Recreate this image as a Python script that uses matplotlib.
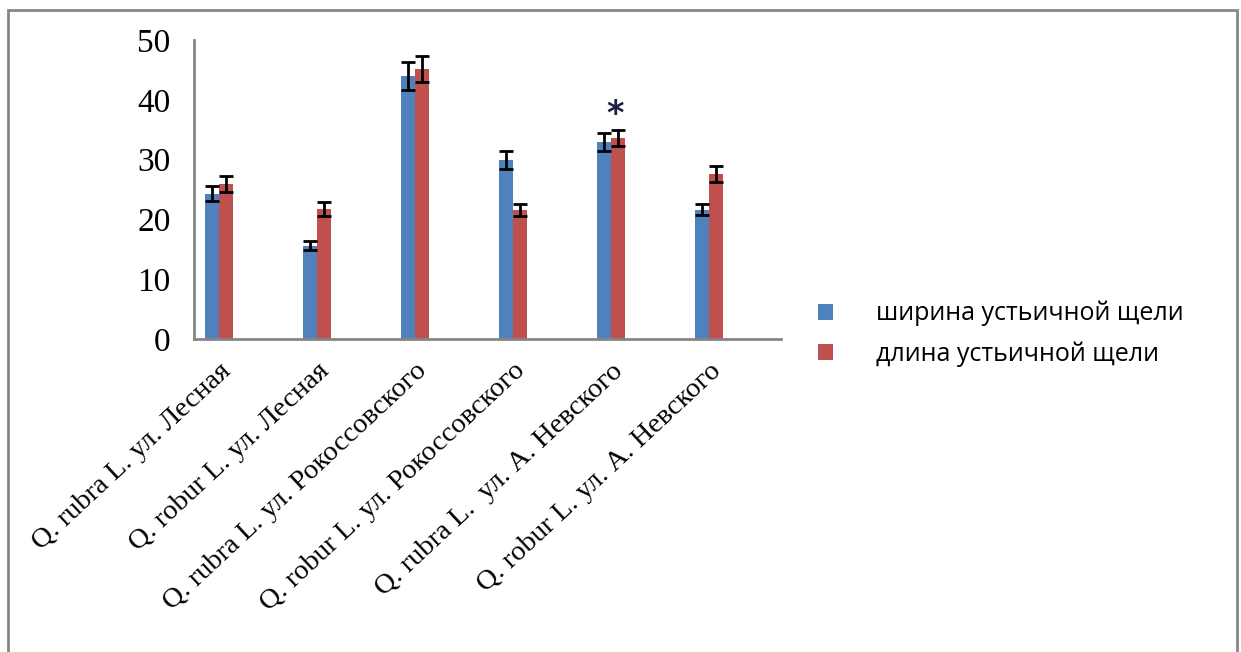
import numpy as np
import matplotlib
matplotlib.use("Agg")
import matplotlib.pyplot as plt
from matplotlib.patches import Rectangle

# data
sites = ["Q. rubra L. ул. Лесная", "Q. robur L. ул. Лесная",
         "Q. rubra L. ул. Рокоссовского", "Q. robur L. ул. Рокоссовского",
         "Q. rubra L.  ул. А. Невского", "Q. robur L. ул. А. Невского"]
width_vals = [24.3, 15.6, 44.0, 29.9, 32.9, 21.6]
width_err = [1.25, 0.8, 2.3, 1.5, 1.5, 0.9]
length_vals = [25.9, 21.7, 45.2, 21.6, 33.6, 27.6]
length_err = [1.35, 1.2, 2.2, 1.0, 1.3, 1.3]
labels = ["ширина устьичной щели", "длина устьичной щели"]
yticks = [0, 10, 20, 30, 40, 50]

blue = "#4F81BD"
red = "#C0504D"
grey = "#868686"

fig = plt.figure(figsize=(12.41, 6.52), dpi=100)
ax = fig.add_axes([194 / 1241, 1 - 339 / 652, (781 - 194) / 1241, (339 - 40) / 652])

x = np.arange(len(sites))
bw = 0.143
ekw = dict(ecolor="black", elinewidth=2, capsize=5, capthick=2)
b1 = ax.bar(x - bw / 2, width_vals, bw, yerr=width_err, color=blue, error_kw=ekw, label=labels[0])
b2 = ax.bar(x + bw / 2, length_vals, bw, yerr=length_err, color=red, error_kw=ekw, label=labels[1])

# significance mark over the 5th group
ax.text(x[4] + 0.04, 37.6, "*", fontsize=24, ha="center", va="center", color="#1F1F3F",
        family="DejaVu Sans", fontweight="bold")

ax.set_xlim(-0.255, 5.735)
ax.set_ylim(0, 50)
ax.set_yticks(yticks)
ax.set_yticklabels([str(t) for t in yticks], family="Liberation Serif", fontsize=24)
ax.tick_params(axis="y", length=0, pad=17)
ax.set_xticks(x)
ax.set_xticklabels(sites, rotation=43, ha="right", rotation_mode="anchor",
                   family="Liberation Serif", fontsize=20.5)
ax.tick_params(axis="x", length=0, pad=14)

for s in ["top", "right"]:
    ax.spines[s].set_visible(False)
for s in ["left", "bottom"]:
    ax.spines[s].set_color(grey)
    ax.spines[s].set_linewidth(2)

leg = fig.legend(handles=[b1, b2], labels=labels, loc="center left",
                 bbox_to_anchor=(795 / 1241, 1 - 334 / 652), frameon=False,
                 prop={"family": "Open Sans", "size": 18}, handlelength=0.6,
                 handleheight=0.6, handletextpad=1.75, labelspacing=0.6)

# outer frame of the chart
fig.patches.append(Rectangle((8 / 1241, -0.1), (1237 - 8) / 1241, 1.1 - 10 / 652,
                             transform=fig.transFigure, fill=False,
                             edgecolor=grey, linewidth=2))

fig.savefig("out.png", dpi=100)
